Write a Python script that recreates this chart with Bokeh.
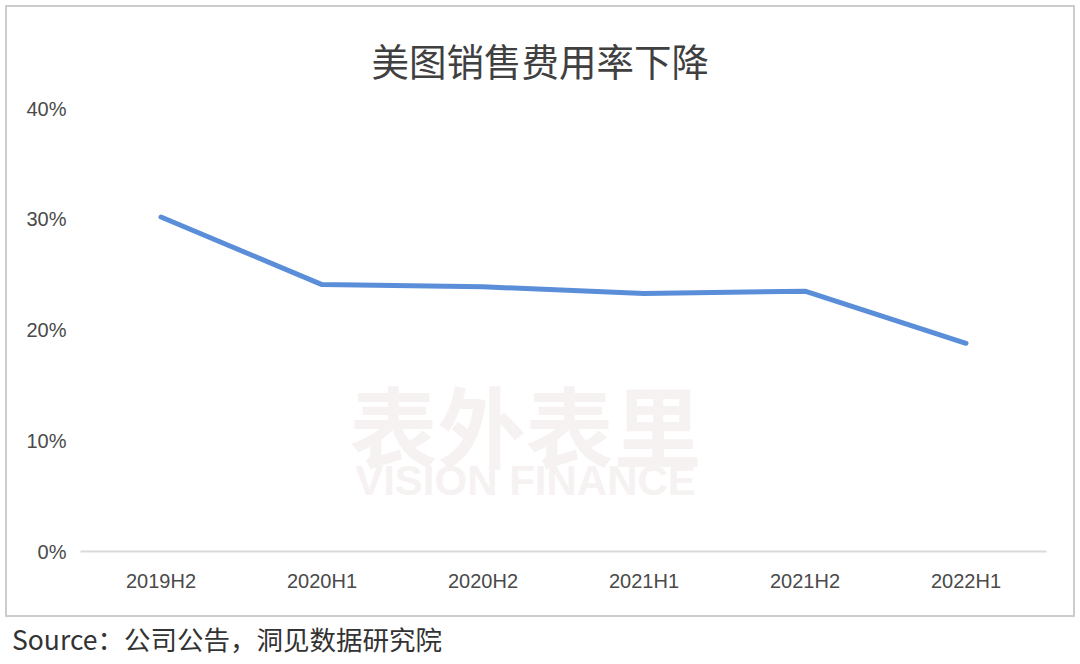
from bokeh.plotting import figure
from bokeh.models import FactorRange, Range1d, FixedTicker, NumeralTickFormatter, Title, Div, Label
from bokeh.layouts import column
from bokeh.embed import file_html
from bokeh.resources import INLINE

periods = ["2019H2", "2020H1", "2020H2", "2021H1", "2021H2", "2022H1"]
sales_expense_ratio = [0.302, 0.241, 0.239, 0.233, 0.235, 0.188]
y_ticks = [0, 0.1, 0.2, 0.3, 0.4]

title_text = "美图销售费用率下降"
source_text = "Source：公司公告，洞见数据研究院"

p = figure(width=1070, height=612, x_range=FactorRange(factors=periods, range_padding=0),
           y_range=Range1d(0, 0.40), output_backend="svg", toolbar_location=None,
           min_border_left=73, min_border_right=31, min_border_top=101, min_border_bottom=68)
p.title = Title(text=title_text, align="left", vertical_align="bottom", text_font="Noto Sans CJK SC",
                text_font_size="37.5px", text_font_style="normal", text_color="#404040",
                offset=291, standoff=44)
p.styles = {"border": "2px solid #cccccc", "box-sizing": "border-box"}
p.margin = (5, 0, 0, 5)
p.outline_line_color = None
p.xgrid.visible = False
p.ygrid.visible = False
p.background_fill_color = "white"
p.border_fill_color = "white"

# watermark
p.add_layout(Label(x=445, y=129, x_units="screen", y_units="screen", text="表外表里",
                   text_font="Noto Sans CJK SC", text_font_size="88px", text_font_style="bold",
                   text_color="#f6f2f2", text_align="center", text_baseline="middle"))
p.add_layout(Label(x=445, y=71, x_units="screen", y_units="screen", text="VISION FINANCE",
                   text_font="Liberation Sans", text_font_size="42px", text_font_style="bold",
                   text_color="#f6f2f2", text_align="center", text_baseline="middle"))

p.line(x=periods, y=sales_expense_ratio, line_color="#5b8ed8", line_width=5, line_join="round", line_cap="round")

p.yaxis.ticker = FixedTicker(ticks=y_ticks)
p.yaxis.formatter = NumeralTickFormatter(format="0%")
p.yaxis.axis_line_color = None
p.yaxis.major_tick_line_color = None
p.yaxis.minor_tick_line_color = None
p.yaxis.major_label_standoff = 8
p.yaxis.major_label_text_font = "Liberation Sans"
p.yaxis.major_label_text_font_size = "20px"
p.yaxis.major_label_text_color = "#4a4a4a"

p.xaxis.axis_line_color = "#d9d9d9"
p.xaxis.axis_line_width = 2
p.xaxis.major_tick_line_color = None
p.xaxis.minor_tick_line_color = None
p.xaxis.major_label_standoff = 12
p.xaxis.major_label_text_font = "Liberation Sans"
p.xaxis.major_label_text_font_size = "20px"
p.xaxis.major_label_text_color = "#4a4a4a"

src = Div(text=source_text, width=1070, height=40,
          styles={"font-family": "Noto Sans CJK SC", "font-size": "26.5px", "color": "#333333",
                  "padding-left": "7px", "margin-top": "6px", "line-height": "1.2"})

layout = column(p, src, spacing=0)
open("out.html", "w").write(file_html(layout, INLINE))
